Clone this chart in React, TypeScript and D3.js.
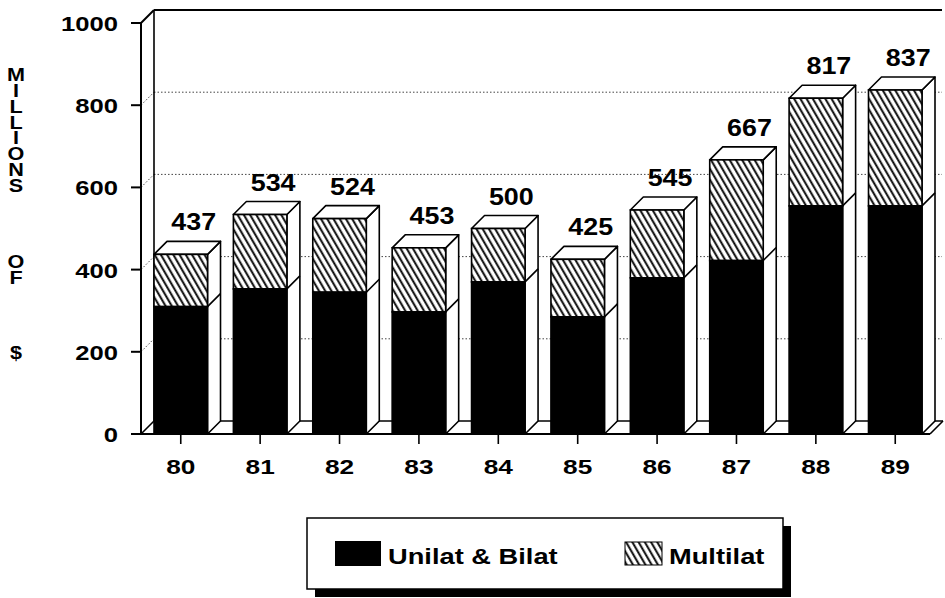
import React from 'react';
import * as d3 from 'd3';

const years = ['80', '81', '82', '83', '84', '85', '86', '87', '88', '89'];
const unilatBilat = [310, 353, 345, 297, 370, 285, 380, 422, 555, 555];
const multilat = [127, 181, 179, 156, 130, 140, 165, 245, 262, 282];
const totals = [437, 534, 524, 453, 500, 425, 545, 667, 817, 837];
const yTicks = [0, 200, 400, 600, 800, 1000];
const gridValues = [200, 400, 600, 800];
const yTitleWords = ['MILLIONS', 'OF', '$'];
const legendLabels = ['Unilat & Bilat', 'Multilat'];

const W = 945;
const H = 598;
const DX = 13;
const DY = 13;
const FONT = "'Liberation Sans', Arial, Helvetica, sans-serif";

const x = d3.scaleBand<string>().domain(years).range([154, 922]).paddingInner(0.326).paddingOuter(0).align(0);
const y = d3.scaleLinear().domain([0, 1000]).range([434, 23]);

function SText({ x, y, size, sx, children, anchor = 'middle' }: any) {
  return (
    <text
      transform={`translate(${x},${y}) scale(${sx},1)`}
      textAnchor={anchor}
      fontFamily={FONT}
      fontWeight="bold"
      fontSize={size}
      fill="#000"
    >
      {children}
    </text>
  );
}

export default function App() {
  const y0 = y(0);
  const yT = y(1000);
  const axisX = 141;
  const backX = axisX + DX;
  const rightX = 942;
  const bw = x.bandwidth();

  const LINE = 16;
  const WORD_GAP = 75;
  const TITLE_SIZE = 18;
  const ADV = TITLE_SIZE * 1.117;
  const wordTops: number[] = [];
  let top = 75 - ADV / 2;
  yTitleWords.forEach((w) => {
    wordTops.push(top);
    top += (w.length - 1) * LINE + WORD_GAP;
  });

  return (
    <div style={{ position: 'fixed', left: 0, top: 0 }}>
      <svg width={W} height={H} viewBox={`0 0 ${W} ${H}`} style={{ display: 'block', background: '#fff' }}>
        <defs>
          <pattern id="hatch" patternUnits="userSpaceOnUse" width={5.4} height={10} patternTransform="rotate(-30)">
            <rect width={5.4} height={10} fill="#fff" />
            <line x1={1.2} y1={0} x2={1.2} y2={10} stroke="#000" strokeWidth={1.9} />
          </pattern>
        </defs>

        {/* back wall gridlines */}
        {gridValues.map((v) => (
          <g key={'g' + v}>
            <line x1={backX} x2={rightX} y1={y(v) - DY} y2={y(v) - DY} stroke="#444" strokeWidth={1} strokeDasharray="1.5,2" />
            <line x1={axisX} x2={backX} y1={y(v)} y2={y(v) - DY} stroke="#444" strokeWidth={1} strokeDasharray="1.5,2" />
          </g>
        ))}
        {/* top edge of wall */}
        <line x1={backX} x2={rightX} y1={yT - DY} y2={yT - DY} stroke="#000" strokeWidth={2} />
        <line x1={axisX} x2={backX} y1={yT} y2={yT - DY} stroke="#000" strokeWidth={2} />
        {/* back wall vertical */}
        <line x1={backX} x2={backX} y1={yT - DY} y2={y0 - DY} stroke="#000" strokeWidth={1.6} />
        {/* front axis */}
        <line x1={axisX} x2={axisX} y1={yT} y2={y0} stroke="#000" strokeWidth={2} />
        {/* floor */}
        <line x1={backX} x2={rightX + 1} y1={y0 - DY} y2={y0 - DY} stroke="#000" strokeWidth={1.6} />
        <line x1={axisX} x2={backX} y1={y0} y2={y0 - DY} stroke="#000" strokeWidth={1.6} />
        <line x1={131} x2={930} y1={y0} y2={y0} stroke="#000" strokeWidth={2} />
        <line x1={930} x2={943} y1={y0} y2={y0 - DY} stroke="#000" strokeWidth={1.6} />

        {/* y ticks and labels */}
        {yTicks.map((v) => (
          <g key={'t' + v}>
            <line x1={131} x2={axisX} y1={y(v)} y2={y(v)} stroke="#000" strokeWidth={2} />
            <SText x={118} y={y(v) + 8} size={21} sx={1.22} anchor="end">{String(v)}</SText>
          </g>
        ))}

        {/* y title: vertical upright words */}
        {yTitleWords.map((w, wi) => (
          <g key={'yw' + wi} transform={`translate(16,${wordTops[wi]}) scale(1.2,1)`}>
            <text
              x={0}
              y={0}
              fontFamily={FONT}
              fontWeight="bold"
              fontSize={TITLE_SIZE}
              fill="#000"
              style={{ writingMode: 'vertical-rl', textOrientation: 'upright', letterSpacing: `${LINE - ADV}px` } as any}
            >
              {w}
            </text>
          </g>
        ))}

        {/* bars */}
        {years.map((yr, i) => {
          const xl = x(yr) as number;
          const xr = xl + bw;
          const yt = y(totals[i]);
          const yb = y(unilatBilat[i]);
          const cx = xl + bw / 2;
          return (
            <g key={yr}>
              <polygon
                points={`${xr},${yt} ${xr + DX},${yt - DY} ${xr + DX},${y0 - DY} ${xr},${y0}`}
                fill="#fff"
                stroke="#000"
                strokeWidth={1.6}
                strokeLinejoin="round"
              />
              <line x1={xr} y1={yb} x2={xr + DX} y2={yb - DY} stroke="#000" strokeWidth={1.6} />
              <polygon
                points={`${xl},${yt} ${xl + DX},${yt - DY} ${xr + DX},${yt - DY} ${xr},${yt}`}
                fill="#fff"
                stroke="#000"
                strokeWidth={1.6}
                strokeLinejoin="round"
              />
              <rect x={xl} y={yt} width={bw} height={yb - yt} fill="url(#hatch)" stroke="#000" strokeWidth={1.6} />
              <rect x={xl} y={yb} width={bw} height={y0 - yb} fill="#000" stroke="#000" strokeWidth={1.6} />
              <line x1={cx} x2={cx} y1={y0} y2={y0 + 10} stroke="#000" strokeWidth={1.6} />
              <SText x={cx} y={474} size={21} sx={1.25}>{yr}</SText>
              <SText x={cx + DX} y={yt - DY - 11} size={24} sx={1.12}>{String(totals[i])}</SText>
            </g>
          );
        })}

        {/* legend */}
        <rect x={315} y={526} width={476} height={71} fill="#000" />
        <rect x={307} y={518} width={476} height={71} fill="#fff" stroke="#000" strokeWidth={1.5} />
        <rect x={335} y={541} width={46} height={25} fill="#000" />
        <SText x={388} y={564} size={22} sx={1.24} anchor="start">{legendLabels[0]}</SText>
        <rect x={625} y={542} width={37} height={23} fill="url(#hatch)" stroke="#000" strokeWidth={1} />
        <SText x={669} y={564} size={22} sx={1.24} anchor="start">{legendLabels[1]}</SText>
      </svg>
    </div>
  );
}
